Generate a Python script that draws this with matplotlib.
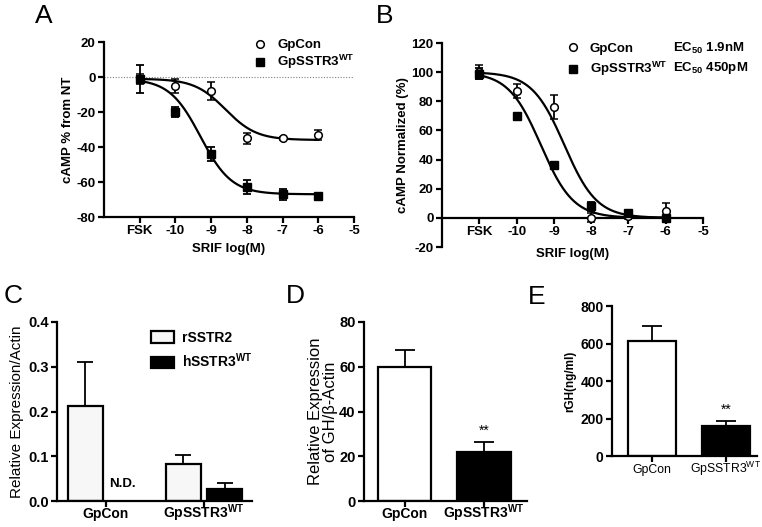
import matplotlib
matplotlib.use("Agg")
import matplotlib.pyplot as plt
import numpy as np
from matplotlib.patches import Patch
from matplotlib.lines import Line2D

plt.rcParams['font.family'] = ['Liberation Sans', 'DejaVu Sans']
plt.rcParams['mathtext.fontset'] = 'custom'
plt.rcParams['mathtext.rm'] = 'Liberation Sans'
plt.rcParams['mathtext.bf'] = 'Liberation Sans:bold'
plt.rcParams['axes.unicode_minus'] = False

WT = r'GpSSTR3$^{\mathregular{WT}}$'

# ---- panel A / B data (x = log M, FSK plotted at -11)
dose_x = [-11, -10, -9, -8, -7, -6]
dose_ticks = [-11, -10, -9, -8, -7, -6, -5]
dose_labels = ["FSK", "-10", "-9", "-8", "-7", "-6", "-5"]

a_con = [-1, -5, -8, -35, -35, -33]
a_con_err = [3, 4, 5, 3, 1, 3]
a_wt = [-1, -20, -44, -63, -67, -68]
a_wt_err = [8, 3, 4, 4, 3, 1]
# sigmoid fits: top, bottom, logEC50
a_con_fit = [-1, -36, -8.6]
a_wt_fit = [-1, -67, -9.3]

b_con = [100, 87, 76, 0, 1, 5]
b_con_err = [5, 5, 8, 3, 2, 5]
b_wt = [99, 70, 36, 8, 3, 0]
b_wt_err = [4, 1, 2, 3, 1, 1]
b_con_fit = [100, 0, -8.72]
b_wt_fit = [100, 0, -9.35]

# ---- panel C
groups = ["GpCon", WT]
c_rsstr2 = [0.213, 0.083]
c_rsstr2_err = [0.098, 0.020]
c_hsstr3 = [0.0, 0.027]
c_hsstr3_err = [0.0, 0.014]

# ---- panel D
d_vals = [60, 22]
d_err = [7.5, 4.5]

# ---- panel E
e_vals = [615, 160]
e_err = [77, 25]

LW = 1.6


def sigmoid(x, top, bottom, logec50):
    return bottom + (top - bottom) / (1 + 10 ** (x - logec50))


def style_axes(ax, size=9.5):
    for s in ['top', 'right']:
        ax.spines[s].set_visible(False)
    for s in ['left', 'bottom']:
        ax.spines[s].set_linewidth(LW)
    ax.tick_params(direction='out', length=4, width=LW, labelsize=size, pad=2)
    for t in ax.get_xticklabels() + ax.get_yticklabels():
        t.set_fontweight('bold')


def baseline_xlabels(ax, pad):
    # keep "GpCon" and "GpSSTR3^WT" on the same baseline
    ax.tick_params(axis='x', pad=pad)
    for t in ax.get_xticklabels():
        t.set_verticalalignment('baseline')


def curve_panel(ax, con, con_err, wt, wt_err, con_fit, wt_fit):
    xs = np.linspace(-11, -6, 200)
    ax.plot(xs, sigmoid(xs, *con_fit), color='black', lw=LW)
    ax.plot(xs, sigmoid(xs, *wt_fit), color='black', lw=LW)
    ax.errorbar(dose_x, con, yerr=con_err, fmt='o', ms=5.5, mfc='white', mec='black',
                mew=1.1, ecolor='black', elinewidth=1.3, capsize=2.8, capthick=1.3, zorder=3)
    ax.errorbar(dose_x, wt, yerr=wt_err, fmt='s', ms=5.5, mfc='black', mec='black',
                ecolor='black', elinewidth=1.3, capsize=2.8, capthick=1.3, zorder=3)
    ax.set_xlim(-12, -5)
    ax.set_xticks(dose_ticks)
    ax.set_xticklabels(dose_labels)
    ax.set_xlabel("SRIF log(M)", fontsize=9.5, fontweight='bold')


def legend_handles():
    h1 = Line2D([], [], marker='o', ls='none', ms=5.5, mfc='white', mec='black', mew=1.1)
    h2 = Line2D([], [], marker='s', ls='none', ms=5.5, mfc='black', mec='black')
    return [h1, h2]


fig = plt.figure(figsize=(7.62, 5.27), dpi=100)

# ---------------- A
ax = fig.add_axes([0.1365, 0.5882, 0.3281, 0.3321])
ax.axhline(0, color='gray', lw=0.8, ls=(0, (1, 1.5)))
curve_panel(ax, a_con, a_con_err, a_wt, a_wt_err, a_con_fit, a_wt_fit)
ax.set_ylim(-80, 20)
ax.set_yticks([-80, -60, -40, -20, 0, 20])
ax.set_ylabel("cAMP % from NT", fontsize=9.5, fontweight='bold', labelpad=2)
style_axes(ax)
ax.legend(legend_handles(), ["GpCon", WT], loc='upper left', bbox_to_anchor=(0.55, 1.085),
          frameon=False, handlelength=1.0, handletextpad=0.8, labelspacing=0.15,
          prop={'weight': 'bold', 'size': 9.5})

# ---------------- B
ax = fig.add_axes([0.5801, 0.5313, 0.3425, 0.3871])
curve_panel(ax, b_con, b_con_err, b_wt, b_wt_err, b_con_fit, b_wt_fit)
ax.set_ylim(-20, 120)
ax.set_yticks([-20, 0, 20, 40, 60, 80, 100, 120])
ax.spines['bottom'].set_position(('data', 0))
ax.set_ylabel("cAMP Normalized (%)", fontsize=9.5, fontweight='bold', labelpad=2)
ax.xaxis.set_label_coords(0.5, -0.005)
style_axes(ax)
ax.legend(legend_handles(), ["GpCon", WT], loc='upper left', bbox_to_anchor=(0.43, 1.06),
          frameon=False, handlelength=1.0, handletextpad=0.8, labelspacing=0.4,
          prop={'weight': 'bold', 'size': 9.5})
ax.text(0.885, 0.975, r'EC$_{\mathregular{50}}$ 1.9nM', transform=ax.transAxes,
        fontsize=9.5, fontweight='bold', va='center', ha='left')
ax.text(0.885, 0.877, r'EC$_{\mathregular{50}}$ 450pM', transform=ax.transAxes,
        fontsize=9.5, fontweight='bold', va='center', ha='left')

# ---------------- C
ax = fig.add_axes([0.0748, 0.0493, 0.2559, 0.3397])
xg = np.arange(len(groups))
w = 0.35
off = 0.21
ax.bar(xg - off, c_rsstr2, w, color='#f7f7f7', edgecolor='black', lw=LW, zorder=2)
ax.errorbar(xg - off, c_rsstr2, yerr=[[0, 0], c_rsstr2_err], fmt='none', ecolor='black',
            elinewidth=1.3, capsize=6, capthick=1.3, zorder=1)
ax.bar(xg[1:] + off, c_hsstr3[1:], w, color='black', edgecolor='black', lw=LW, zorder=2)
ax.errorbar(xg[1:] + off, c_hsstr3[1:], yerr=[[0], c_hsstr3_err[1:]], fmt='none', ecolor='black',
            elinewidth=1.3, capsize=6, capthick=1.3, zorder=1)
ax.text(xg[0] + off - 0.04, 0.025, "N.D.", fontsize=9.5, fontweight='bold', ha='center', va='bottom')
ax.set_xlim(-0.5, 1.49)
ax.set_ylim(0, 0.4)
ax.set_yticks([0.0, 0.1, 0.2, 0.3, 0.4])
ax.set_yticklabels(["0.0", "0.1", "0.2", "0.3", "0.4"])
ax.set_xticks(xg)
ax.set_xticklabels(groups)
ax.set_ylabel("Relative Expression/Actin", fontsize=11, labelpad=3)
style_axes(ax, 10.5)
ax.tick_params(axis='x', labelsize=10)
baseline_xlabels(ax, 8.5)
handles = [Patch(facecolor='#f7f7f7', edgecolor='black', lw=LW), Patch(facecolor='black', edgecolor='black', lw=LW)]
ax.legend(handles, ['rSSTR2', r'hSSTR3$^{\mathregular{WT}}$'], loc='upper left', bbox_to_anchor=(0.42, 1.02),
          frameon=False, handlelength=1.6, handleheight=0.9, handletextpad=0.6, labelspacing=0.5,
          prop={'weight': 'bold', 'size': 10})

# ---------------- D
ax = fig.add_axes([0.4777, 0.0493, 0.2139, 0.3397])
w = 0.675
ax.bar(xg, d_vals, w, color=['white', 'black'], edgecolor='black', lw=LW, zorder=2)
ax.errorbar(xg, d_vals, yerr=[[0, 0], d_err], fmt='none', ecolor='black',
            elinewidth=1.3, capsize=7, capthick=1.3, zorder=1)
ax.annotate("**", (xg[1], d_vals[1] + d_err[1]), xytext=(0, 3), textcoords='offset points',
            ha='center', va='bottom', fontsize=10)
ax.set_xlim(-0.51, 1.54)
ax.set_ylim(0, 80)
ax.set_yticks([0, 20, 40, 60, 80])
ax.set_xticks(xg)
ax.set_xticklabels(groups)
ax.set_ylabel("Relative Expression\nof GH/\u03b2-Actin", fontsize=12, labelpad=1, linespacing=1.0)
style_axes(ax, 10.5)
ax.tick_params(axis='x', labelsize=10)
baseline_xlabels(ax, 8.5)

# ---------------- E
ax = fig.add_axes([0.8031, 0.1347, 0.1903, 0.2846])
w = 0.64
ax.bar(xg, e_vals, w, color=['white', 'black'], edgecolor='black', lw=LW, zorder=2)
ax.errorbar(xg, e_vals, yerr=[[0, 0], e_err], fmt='none', ecolor='black',
            elinewidth=1.3, capsize=7, capthick=1.3, zorder=1)
ax.annotate("**", (xg[1], e_vals[1] + e_err[1]), xytext=(0, 3), textcoords='offset points',
            ha='center', va='bottom', fontsize=10)
ax.set_xlim(-0.54, 1.42)
ax.set_ylim(0, 800)
ax.set_yticks([0, 200, 400, 600, 800])
ax.set_xticks(xg)
ax.set_xticklabels(groups)
ax.set_ylabel("rGH(ng/ml)", fontsize=8.5, fontweight='bold', labelpad=3)
style_axes(ax, 10)
ax.tick_params(axis='x', labelsize=8.8)
for t in ax.get_xticklabels():
    t.set_fontweight('normal')
baseline_xlabels(ax, 8)

# ---------------- panel letters
for letter, x, y in [("A", 35, 4), ("B", 376, 4), ("C", 4, 284), ("D", 286, 284), ("E", 528, 285)]:
    fig.text(x / 762, 1 - y / 527, letter, fontsize=19, ha='left', va='top')

fig.savefig("out.png", dpi=100)
